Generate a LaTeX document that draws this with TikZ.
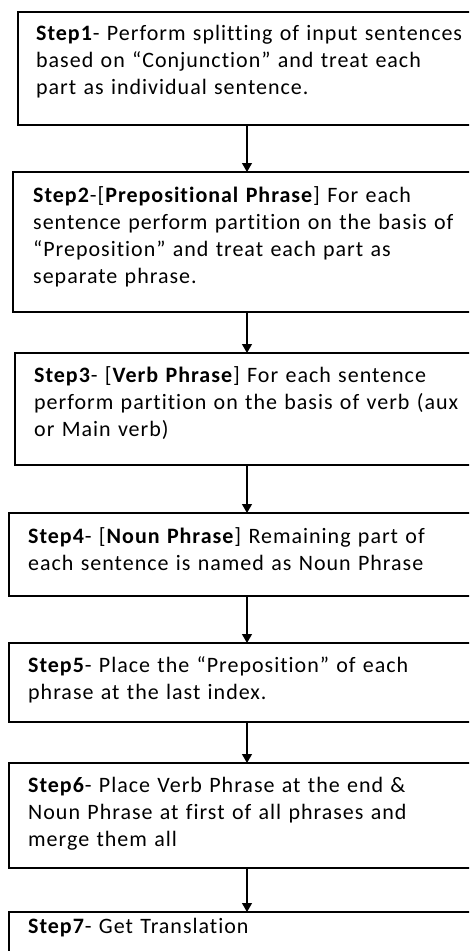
\documentclass[tikz,border=0pt]{standalone}
\usepackage{fontspec}
\setmainfont{Carlito}[LetterSpace=4.5, Ligatures={NoCommon}]
\usetikzlibrary{arrows.meta,calc}

\tikzset{
  stepbox/.style={draw=black, line width=1.2pt, rectangle, inner sep=0pt, outer sep=0pt, anchor=north west},
  steptext/.style={anchor=base west, inner sep=0pt, text width=448pt, align=left,
                   font=\fontsize{22pt}{27pt}\selectfont},
  flow/.style={draw=black, line width=1.1pt, -{Triangle[length=9pt,width=10pt]}}
}

\begin{document}
\begin{tikzpicture}[x=1pt,y=1pt]
  \useasboundingbox (0,0) rectangle (469,-951);
  \fill[white] (0,0) rectangle (469,-951);
  \clip (0,0) rectangle (469,-951);

  % step boxes (right side runs past the page edge)
  \node[stepbox, minimum width=462pt, minimum height=113pt] (b1) at (18,-12) {};
  \node[stepbox, minimum width=467pt, minimum height=140pt] (b2) at (13,-172) {};
  \node[stepbox, minimum width=465pt, minimum height=112pt] (b3) at (15,-353) {};
  \node[stepbox, minimum width=471pt, minimum height=83pt]  (b4) at (9,-513) {};
  \node[stepbox, minimum width=471pt, minimum height=79pt]  (b5) at (9,-643) {};
  \node[stepbox, minimum width=471pt, minimum height=105pt] (b6) at (9,-763) {};
  \node[stepbox, minimum width=471pt, minimum height=80pt]  (b7) at (9,-912) {};

  % box texts
  \node[steptext] (t1) at ($(b1.north west)+(18,-28)$)
    {\textbf{Step1}- Perform splitting of input sentences\\
     based on “Conjunction” and treat each\\
     part as individual sentence.};
  \node[steptext] (t2) at ($(b2.north west)+(20,-30)$)
    {\textbf{Step2}-[\textbf{Prepositional Phrase}] For each\\
     sentence perform partition on the basis of\\
     “Preposition” and treat each part as\\
     separate phrase.};
  \node[steptext] (t3) at ($(b3.north west)+(19,-29)$)
    {\textbf{Step3}- [\textbf{Verb Phrase}] For each sentence\\
     perform partition on the basis of verb (aux\\
     or Main verb)};
  \node[steptext] (t4) at ($(b4.north west)+(19,-30)$)
    {\textbf{Step4}- [\textbf{Noun Phrase}] Remaining part of\\
     each sentence is named as Noun Phrase};
  \node[steptext] (t5) at ($(b5.north west)+(19,-29)$)
    {\textbf{Step5}- Place the “Preposition” of each\\
     phrase at the last index.};
  \node[steptext] (t6) at ($(b6.north west)+(19,-29)$)
    {\textbf{Step6}- Place Verb Phrase at the end \&\\
     Noun Phrase at first of all phrases and\\
     merge them all};
  \node[steptext] (t7) at ($(b7.north west)+(19,-21)$)
    {\textbf{Step7}- Get Translation};

  % connectors
  \coordinate (ax) at (247,0);
  \draw[flow] (b1.south -| ax) -- (b2.north -| ax);
  \draw[flow] (b2.south -| ax) -- (b3.north -| ax);
  \draw[flow] (b3.south -| ax) -- (b4.north -| ax);
  \draw[flow] (b4.south -| ax) -- (b5.north -| ax);
  \draw[flow] (b5.south -| ax) -- (b6.north -| ax);
  \draw[flow] (b6.south -| ax) -- (b7.north -| ax);
\end{tikzpicture}
\end{document}
